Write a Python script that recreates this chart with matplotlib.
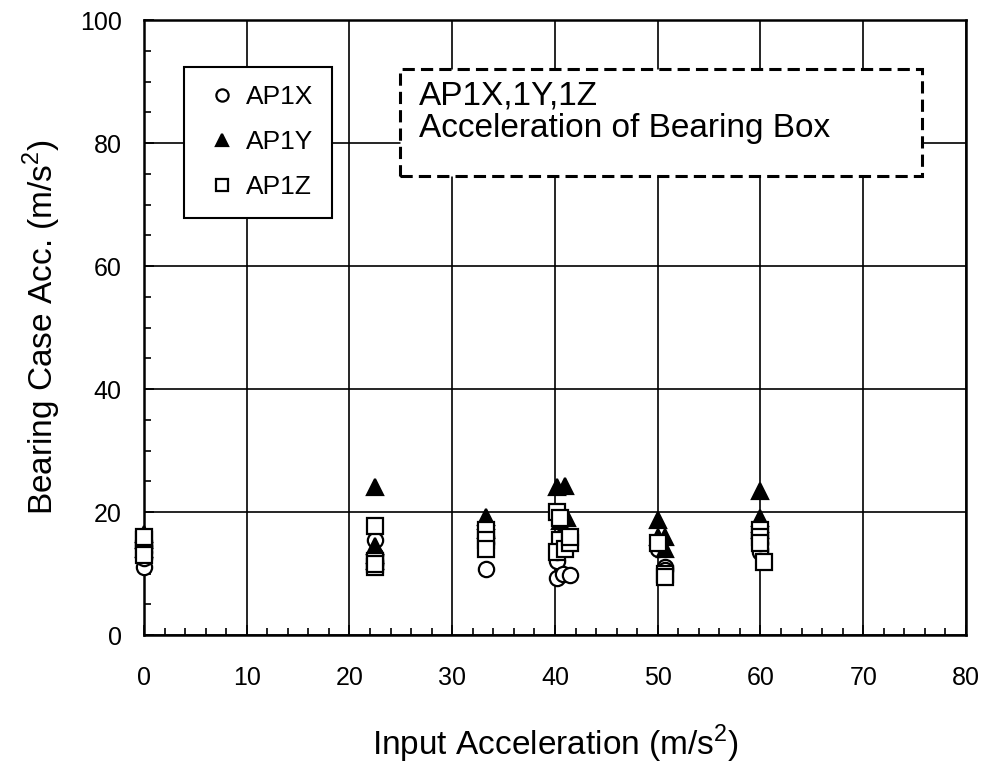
import matplotlib.pyplot as plt
from matplotlib.ticker import MultipleLocator
from matplotlib.patches import FancyBboxPatch

plt.rcParams['font.family'] = ['Liberation Sans', 'DejaVu Sans']
plt.rcParams['mathtext.fontset'] = 'custom'
plt.rcParams['mathtext.rm'] = 'Liberation Sans'

# Input acceleration (m/s^2) and bearing case response per sensor
ap1x_in = [0, 0, 0, 0, 22.5, 22.5, 22.5, 22.5, 33.3, 33.3, 33.3,
           40.2, 40.2, 40.2, 40.8, 41.5, 50, 50, 50.7, 50.7, 60, 60, 60]
ap1x_acc = [11, 12.5, 13.5, 14.5, 15.5, 13, 12, 11.5, 10.8, 15, 16,
            9.2, 12, 13.5, 10, 9.8, 14, 15, 11, 10.5, 14, 13.5, 15]

ap1y_in = [0, 0, 0, 22.5, 22.5, 22.5, 22.5, 33.3, 33.3, 33.3,
           40.2, 41, 40.5, 40.8, 41.2, 50, 50, 50.7, 50.7, 60, 60, 60, 60]
ap1y_acc = [16.5, 15.5, 14, 24, 14.5, 13, 12, 19.2, 18.5, 17,
            24, 24.2, 18.5, 17, 19, 18.7, 16, 16, 14, 23.4, 19, 18, 17]

ap1z_in = [0, 0, 0, 0, 22.5, 22.5, 22.5, 22.5, 33.3, 33.3, 33.3,
           40.2, 40.5, 40.5, 40.2, 41, 41.5, 41.5, 50, 50.7, 50.7, 60, 60, 60, 60.3]
ap1z_acc = [15.5, 14, 13, 16, 17.8, 12, 11, 11.5, 17, 15.5, 14,
            20, 19, 15.5, 13.5, 14, 15, 16, 15, 10, 9.5, 17, 16, 15, 11.8]

fig = plt.figure(figsize=(9.89, 7.70), dpi=100)
ax = fig.add_axes([0.1456, 0.1753, 0.8311, 0.7987])

mk = dict(linestyle='none', markersize=11, markeredgewidth=1.6,
          markeredgecolor='black', clip_on=False, zorder=4)
ax.plot(ap1x_in, ap1x_acc, marker='o', markerfacecolor='white', label='AP1X', **mk)
ax.plot(ap1y_in, ap1y_acc, marker='^', markerfacecolor='black', label='AP1Y', **mk)
ax.plot(ap1z_in, ap1z_acc, marker='s', markerfacecolor='white', label='AP1Z', **mk)

ax.set_xlim(0, 80)
ax.set_ylim(0, 100)
ax.xaxis.set_major_locator(MultipleLocator(10))
ax.xaxis.set_minor_locator(MultipleLocator(2))
ax.yaxis.set_major_locator(MultipleLocator(20))
ax.yaxis.set_minor_locator(MultipleLocator(5))
ax.tick_params(which='both', direction='in', top=False, right=False, labelsize=18)
ax.tick_params(axis='x', pad=22)
ax.tick_params(axis='y', pad=16)
ax.tick_params(which='major', length=7, width=1.2)
ax.tick_params(which='minor', length=5, width=1.2)
ax.grid(which='major', color='black', linewidth=1.2)
ax.set_axisbelow(True)
for s in ax.spines.values():
    s.set_linewidth(1.8)

ax.set_xlabel('Input Acceleration (m/s$^2$)', fontsize=24, labelpad=24)
ax.set_ylabel('Bearing Case Acc. (m/s$^2$)', fontsize=24, labelpad=12)

leg = ax.legend(loc='upper left', bbox_to_anchor=(0.0487, 0.924), fontsize=19,
                frameon=True, fancybox=False, edgecolor='black',
                handletextpad=0.15, handlelength=1.5, labelspacing=0.8,
                borderpad=0.7, markerscale=0.8, borderaxespad=0)
leg.get_frame().set_linewidth(1.5)
leg.get_frame().set_alpha(1)

# dashed caption box
box = FancyBboxPatch((0.311, 0.746), 0.635, 0.174, boxstyle='square,pad=0',
                     transform=ax.transAxes, facecolor='white', edgecolor='black',
                     linestyle=(0, (4, 2)), linewidth=2.2, zorder=5)
ax.add_patch(box)
ax.text(0.335, 0.902, 'AP1X,1Y,1Z\nAcceleration of Bearing Box', transform=ax.transAxes,
        fontsize=24, va='top', ha='left', linespacing=1.08, zorder=6)

fig.savefig('out.png', dpi=100)
